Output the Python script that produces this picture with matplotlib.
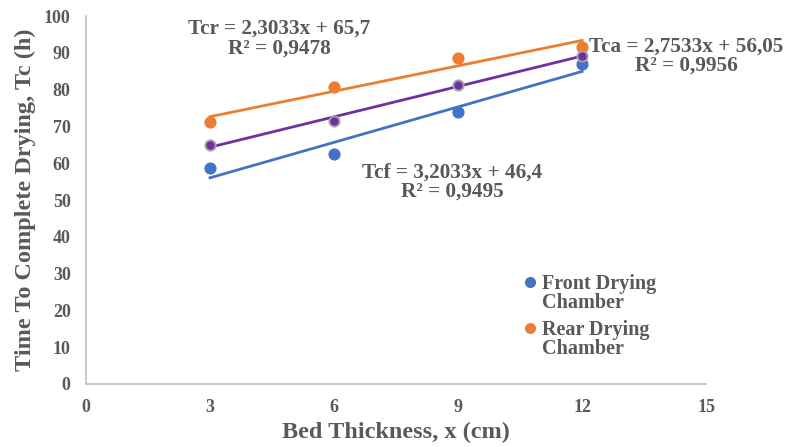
import numpy as np
import matplotlib
matplotlib.use("Agg")
import matplotlib.pyplot as plt

x = [3, 6, 9, 12]
front = [58.7, 62.4, 73.9, 87.0]
rear = [71.2, 80.7, 88.6, 91.6]
average = [64.9, 71.6, 81.3, 89.2]

eq_rear = "Tcr = 2,3033x + 65,7\nR² = 0,9478"
eq_avg = "Tca = 2,7533x + 56,05\nR² = 0,9956"
eq_front = "Tcf = 3,2033x + 46,4\nR² = 0,9495"

TXT = "#595959"
plt.rcParams['font.family'] = ['Liberation Serif', 'DejaVu Serif']
plt.rcParams['font.weight'] = 'bold'

fig = plt.figure(figsize=(7.89, 4.47), dpi=100)
ax = fig.add_axes([0.109, 0.141, 0.786, 0.823])

blue = "#4472C4"
orange = "#ED7D31"
purple = "#7030A0"
gray = "#A5A5A5"

xa = np.array(x, dtype=float)
for ys, col in [(front, blue), (rear, orange), (average, purple)]:
    p = np.polyfit(xa, ys, 1)
    ax.plot(xa, np.polyval(p, xa), color=col, lw=2, zorder=2)

ax.scatter(x, front, s=60, color=blue, zorder=3, label="Front Drying\nChamber")
ax.scatter(x, rear, s=60, color=orange, zorder=3, label="Rear Drying\nChamber")
ax.scatter(x, average, s=60, color=gray, zorder=3)
ax.scatter(x, average, s=25, color=purple, zorder=4)

ax.set_xlim(0, 15)
ax.set_ylim(0, 100)
ax.set_xticks([0, 3, 6, 9, 12, 15])
ax.set_yticks(range(0, 101, 10))
for s in ['top', 'right']:
    ax.spines[s].set_visible(False)
for s in ['left', 'bottom']:
    ax.spines[s].set_color("#BFBFBF")
    ax.spines[s].set_linewidth(1.2)
ax.tick_params(length=0, labelsize=13, labelcolor=TXT, pad=11)
for lbl in ax.get_xticklabels() + ax.get_yticklabels():
    lbl.set_fontweight('bold')

ax.set_xlabel("Bed Thickness, x (cm)", fontsize=17.5, color=TXT, fontweight='bold', labelpad=4)
ax.set_ylabel("Time To Complete Drying, Tc (h)", fontsize=17.5, color=TXT, fontweight='bold', labelpad=6)

kw = dict(fontsize=15.3, color=TXT, fontweight='bold', ha='center', va='center', linespacing=0.95)
ax.text(4.67, 93.9, eq_rear, **kw)
ax.text(14.52, 89.1, eq_avg, **kw)
ax.text(8.86, 54.9, eq_front, **kw)

leg = ax.legend(loc='upper left', bbox_to_anchor=(0.70, 0.30), frameon=False,
                prop={'size': 14.5, 'weight': 'bold'}, handletextpad=0.1,
                labelspacing=0.35, markerscale=0.9, borderaxespad=0, handlelength=1.0,
                scatteryoffsets=[1.34], borderpad=0)
for t in leg.get_texts():
    t.set_color(TXT)
    t.set_linespacing(0.95)

fig.savefig("out.png", dpi=100)
